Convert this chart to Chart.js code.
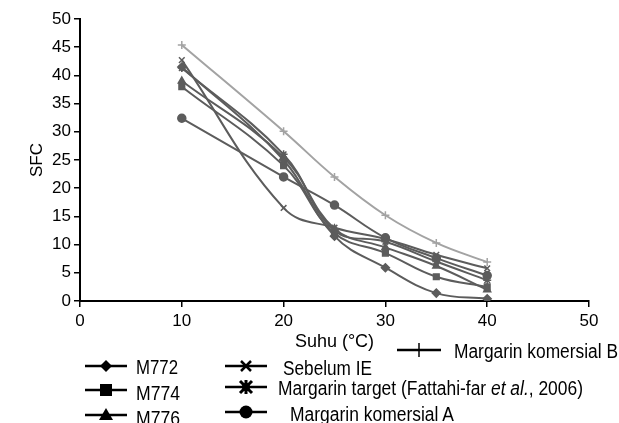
<!DOCTYPE html>
<html>
<head>
<meta charset="utf-8">
<script src="https://cdn.jsdelivr.net/npm/chart.js@4/dist/chart.umd.min.js"></script>
<style>
  html, body { margin: 0; padding: 0; background: #fff; }
  #wrap { position: relative; width: 619px; height: 423px; overflow: hidden; }
  #chart { position: absolute; left: 0; top: 0; }
  #legend { position: absolute; left: 0; top: 0; }
  #legend text { font-family: "Liberation Sans", Arial, sans-serif; font-size: 20px; fill: #000; }
</style>
</head>
<body>
<div id="wrap">
  <canvas id="chart" width="619" height="423"></canvas>
  <svg id="legend" width="619" height="423"></svg>
</div>
<script>
var suhu = [10, 20, 25, 30, 35, 40];
var m772 = [41.5, 25, 11.5, 5.9, 1.4, 0.4];
var m774 = [38, 24, 12, 8.5, 4.3, 2.5];
var m776 = [39, 25.5, 12.8, 9.5, 6.2, 2.0];
var sebelumIE = [42.7, 16.5, 13, 11, 8.2, 5.8];
var margarinTarget = [41.3, 26, 12.5, 10.5, 7, 3.7];
var komersialA = [32.4, 22, 17, 11.2, 7.6, 4.5];
var komersialB = [45.4, 30.1, 22, 15.2, 10.3, 6.9];
var xTicks = [0, 10, 20, 30, 40, 50];
var yTicks = [0, 5, 10, 15, 20, 25, 30, 35, 40, 45, 50];

var FONT = '"Liberation Sans", Arial, sans-serif';
var DARK = '#5c5c5c';
var LIGHT = '#a3a3a3';

function pts(values) {
  return suhu.map(function (t, i) { return { x: t, y: values[i] }; });
}

function series(label, values, style, color) {
  return {
    label: label,
    data: pts(values),
    borderColor: color,
    backgroundColor: color,
    borderWidth: 2,
    pointStyle: style,
    pointRadius: 4,
    pointBorderWidth: 1.5,
    tension: 0.4,
    fill: false,
  };
}

new Chart(document.getElementById('chart').getContext('2d'), {
  type: 'line',
  data: {
    datasets: [
      series('M772', m772, 'rectRot', DARK),
      series('M774', m774, 'rect', DARK),
      series('M776', m776, 'triangle', DARK),
      series('Sebelum IE', sebelumIE, 'crossRot', DARK),
      series('Margarin target', margarinTarget, 'star', DARK),
      series('Margarin komersial A', komersialA, 'circle', DARK),
      series('Margarin komersial B', komersialB, 'cross', LIGHT),
    ],
  },
  options: {
    responsive: false,
    animation: false,
    layout: { padding: { top: 19, right: 30, bottom: 70, left: 0 } },
    plugins: { legend: { display: false }, tooltip: { enabled: false } },
    scales: {
      x: {
        type: 'linear', min: 0, max: 50,
        afterBuildTicks: function (s) { s.ticks = xTicks.map(function (v) { return { value: v }; }); },
        afterFit: function (s) { s.height = 52; },
        ticks: { color: '#000', padding: 4, maxRotation: 0, font: { family: FONT, size: 17 } },
        grid: { drawOnChartArea: false, color: '#000', tickLength: 6, lineWidth: 1.5 },
        border: { color: '#000', width: 2 },
        title: { display: true, text: 'Suhu (°C)', color: '#000', padding: 0, font: { family: FONT, size: 18 } },
      },
      y: {
        type: 'linear', min: 0, max: 50,
        afterBuildTicks: function (s) { s.ticks = yTicks.map(function (v) { return { value: v }; }); },
        afterFit: function (s) { s.width = 80; },
        ticks: { color: '#000', padding: 3, font: { family: FONT, size: 17 } },
        grid: { drawOnChartArea: false, color: '#000', tickLength: 6, lineWidth: 1.5 },
        border: { color: '#000', width: 2 },
        title: { display: true, text: 'SFC', color: '#000', padding: { top: 27, bottom: 0 }, font: { family: FONT, size: 17 } },
      },
    },
  },
});

// legend drawn below the plot, same layout as the figure
var legendItems = [
  { label: 'M772', style: 'diamond', x1: 85, x2: 127, y: 366, tx: 136, ty: 367, w: 42 },
  { label: 'M774', style: 'square', x1: 85, x2: 127, y: 390, tx: 136, ty: 393, w: 44 },
  { label: 'M776', style: 'triangle', x1: 85, x2: 127, y: 415, tx: 136, ty: 418, w: 44 },
  { label: 'Sebelum IE', style: 'x', x1: 225, x2: 267, y: 366, tx: 283, ty: 368, w: 89 },
  { label: 'Margarin target (Fattahi-far |et al.|, 2006)', style: 'star', x1: 225, x2: 267, y: 387, tx: 278, ty: 388, w: 305 },
  { label: 'Margarin komersial A', style: 'circle', x1: 225, x2: 267, y: 412, tx: 290, ty: 414, w: 164 },
  { label: 'Margarin komersial B', style: 'plus', x1: 397, x2: 441, y: 350, tx: 454, ty: 351, w: 164 },
];

function marker(style, cx, cy) {
  var r = 6;
  switch (style) {
    case 'diamond':
      return '<polygon points="' + cx + ',' + (cy - r) + ' ' + (cx + r) + ',' + cy + ' ' + cx + ',' + (cy + r) + ' ' + (cx - r) + ',' + cy + '" fill="#000"/>';
    case 'square':
      return '<rect x="' + (cx - 6) + '" y="' + (cy - 6) + '" width="12" height="12" fill="#000"/>';
    case 'triangle':
      return '<polygon points="' + cx + ',' + (cy - 7) + ' ' + (cx + 7) + ',' + (cy + 5) + ' ' + (cx - 7) + ',' + (cy + 5) + '" fill="#000"/>';
    case 'x':
      return '<path d="M' + (cx - 5) + ' ' + (cy - 5) + 'L' + (cx + 5) + ' ' + (cy + 5) + 'M' + (cx + 5) + ' ' + (cy - 5) + 'L' + (cx - 5) + ' ' + (cy + 5) + '" stroke="#000" stroke-width="2.5"/>';
    case 'star':
      return '<path d="M' + (cx - 6) + ' ' + (cy - 6) + 'L' + (cx + 6) + ' ' + (cy + 6) + 'M' + (cx + 6) + ' ' + (cy - 6) + 'L' + (cx - 6) + ' ' + (cy + 6) + 'M' + cx + ' ' + (cy - 7) + 'L' + cx + ' ' + (cy + 7) + '" stroke="#000" stroke-width="3"/><circle cx="' + cx + '" cy="' + cy + '" r="4" fill="#000"/>';
    case 'circle':
      return '<circle cx="' + cx + '" cy="' + cy + '" r="6.5" fill="#000"/>';
    case 'plus':
      return '<path d="M' + cx + ' ' + (cy - 7) + 'L' + cx + ' ' + (cy + 7) + '" stroke="#000" stroke-width="1.5"/>';
  }
  return '';
}

var svg = document.getElementById('legend');
var html = '';
legendItems.forEach(function (it) {
  html += '<line x1="' + it.x1 + '" y1="' + it.y + '" x2="' + it.x2 + '" y2="' + it.y + '" stroke="#000" stroke-width="2.5"/>';
  html += marker(it.style, (it.x1 + it.x2) / 2, it.y);
  var parts = it.label.split('|');
  var t = '<text x="' + it.tx + '" y="' + it.ty + '" dominant-baseline="central" textLength="' + it.w + '" lengthAdjust="spacingAndGlyphs">';
  parts.forEach(function (p, i) {
    t += i % 2 ? '<tspan font-style="italic">' + p + '</tspan>' : '<tspan>' + p + '</tspan>';
  });
  html += t + '</text>';
});
svg.innerHTML = html;
</script>
</body>
</html>
